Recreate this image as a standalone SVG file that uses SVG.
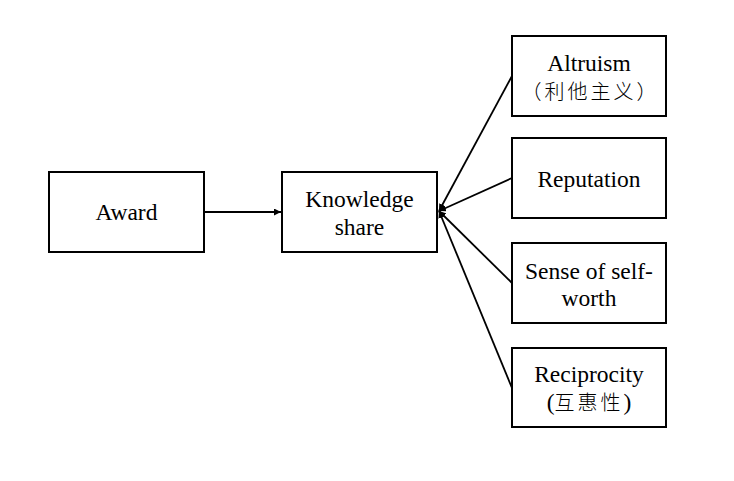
<svg xmlns="http://www.w3.org/2000/svg" width="734" height="481" viewBox="0 0 734 481">
<defs>
<style>
.box{fill:#fff;stroke:#000;stroke-width:2}
.t{font-family:"Liberation Serif","Noto Sans CJK SC",serif;font-size:23.5px;fill:#000;text-anchor:middle}
.cjk{font-family:"Noto Sans CJK SC","Liberation Serif",serif;font-size:20px;font-weight:300;letter-spacing:3px}
.c{fill:none;stroke:#000;stroke-width:1.8}
</style>
<marker id="ah" viewBox="0 0 10 10" refX="10" refY="5" markerWidth="7" markerHeight="7" markerUnits="userSpaceOnUse" orient="auto"><path d="M0,0 L10,5 L0,10 z" fill="#000"/></marker>
</defs>
<rect width="734" height="481" fill="#fff"/>
<g id="connectors">
<line class="c" x1="205" y1="212" x2="281" y2="212" marker-end="url(#ah)"/>
<line class="c" x1="512" y1="76" x2="439" y2="211" marker-end="url(#ah)"/>
<line class="c" x1="512" y1="178" x2="439" y2="211" marker-end="url(#ah)"/>
<line class="c" x1="512" y1="283" x2="439" y2="211" marker-end="url(#ah)"/>
<line class="c" x1="512" y1="388" x2="439" y2="211" marker-end="url(#ah)"/>
</g>
<g id="award"><rect class="box" x="49" y="172" width="155" height="80"/><text class="t" x="126.5" y="220">Award</text></g>
<g id="knowledge"><rect class="box" x="282" y="172" width="155" height="80"/><text class="t" x="359.5" y="207">Knowledge</text><text class="t" x="359.5" y="235">share</text></g>
<g id="altruism"><rect class="box" x="512" y="36" width="154" height="80"/><text class="t" x="589" y="71">Altruism</text><text class="t cjk" x="590.5" y="99">（利他主义）</text></g>
<g id="reputation"><rect class="box" x="512" y="138" width="154" height="80"/><text class="t" x="589" y="187">Reputation</text></g>
<g id="selfworth"><rect class="box" x="512" y="243" width="154" height="80"/><text class="t" x="589" y="279">Sense of self-</text><text class="t" x="589" y="306">worth</text></g>
<g id="reciprocity"><rect class="box" x="512" y="348" width="154" height="79"/><text class="t" x="589" y="382">Reciprocity</text><text class="t" x="589" y="410">(<tspan class="cjk">互惠性</tspan>)</text></g>
</svg>
